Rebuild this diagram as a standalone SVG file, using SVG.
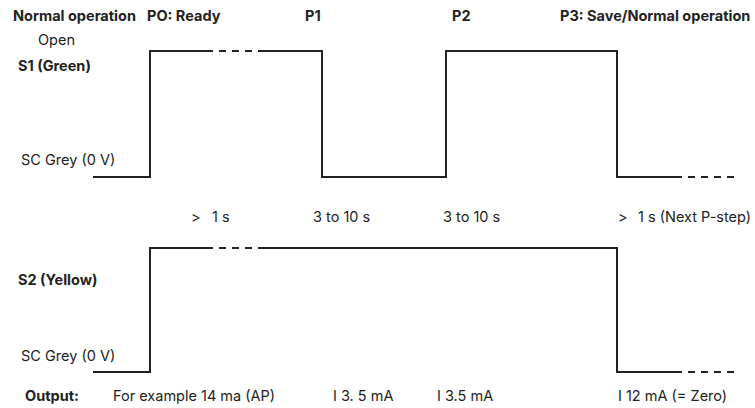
<svg xmlns="http://www.w3.org/2000/svg" width="755" height="408" viewBox="0 0 755 408">
<style>
  text { font-family: Inter, "Liberation Sans", sans-serif; font-size: 14.5px; fill: #222; }
  .b { font-weight: 700; }
  .w { fill: none; stroke: #222; stroke-width: 2; stroke-linejoin: miter; }
  .d { fill: none; stroke: #222; stroke-width: 2; stroke-dasharray: 7 6; }
</style>
<rect width="755" height="408" fill="#fff"/>
<g id="header">
  <text class="b" x="13" y="21">Normal operation</text>
  <text class="b" x="147" y="21">PO: Ready</text>
  <text class="b" x="305" y="21">P1</text>
  <text class="b" x="452" y="21">P2</text>
  <text class="b" x="560" y="21">P3: Save/Normal operation</text>
</g>
<g id="s1-labels">
  <text x="38" y="45">Open</text>
  <text class="b" x="18" y="71">S1 (Green)</text>
  <text x="21" y="165">SC Grey (0 V)</text>
</g>
<g id="durations">
  <text x="191" y="222">&gt;<tspan x="212">1 s</tspan></text>
  <text x="313" y="222">3 to 10 s</text>
  <text x="443" y="222">3 to 10 s</text>
  <text x="618" y="222">&gt;<tspan x="638">1 s (Next P-step)</tspan></text>
</g>
<g id="s2-labels">
  <text class="b" x="18" y="285">S2 (Yellow)</text>
  <text x="21" y="361">SC Grey (0 V)</text>
</g>
<g id="output">
  <text class="b" x="25" y="401">Output:</text>
  <text x="113" y="401">For example 14 ma (AP)</text>
  <text x="333" y="401">I 3. 5 mA</text>
  <text x="437" y="401">I  3.5 mA</text>
  <text x="618" y="401">I 12 mA (= Zero)</text>
</g>
<g id="connectors">
  <path class="w" d="M93,177 H150 V51 H213"/>
  <path class="d" d="M219,51 H254"/>
  <path class="w" d="M258,51 H322 V177 H446 V51 H617 V177 H682"/>
  <path class="d" d="M688,177 H734"/>
  <path class="w" d="M93,372 H150 V248 H213"/>
  <path class="d" d="M219,248 H254"/>
  <path class="w" d="M258,248 H617 V372 H682"/>
  <path class="d" d="M688,372 H734"/>
</g>
</svg>
